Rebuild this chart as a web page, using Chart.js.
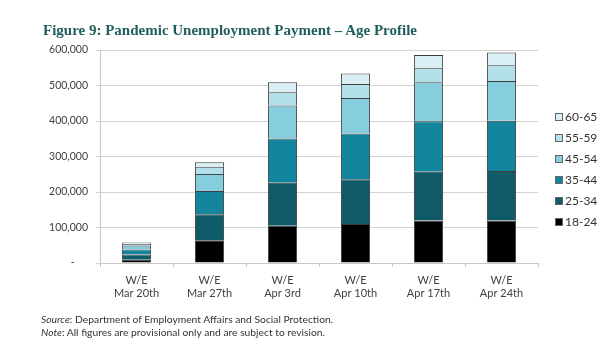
<!DOCTYPE html>
<html>
<head>
<meta charset="utf-8">
<script src="https://cdn.jsdelivr.net/npm/chart.js@4"></script>
<style>
  html,body{margin:0;padding:0;background:#fff;}
  #wrap{position:relative;width:614px;height:345px;overflow:hidden;}
  #title{position:absolute;left:43px;top:21px;font-family:"Liberation Serif","Times New Roman",serif;font-weight:bold;font-size:15px;line-height:18px;color:#1f5e5c;white-space:nowrap;}
  #foot{position:absolute;left:41px;top:313px;font-family:Lato,"Open Sans",sans-serif;font-size:10.3px;color:#333;line-height:12.5px;white-space:nowrap;}
  canvas{position:absolute;left:0;top:0;}
</style>
</head>
<body>
<div id="wrap">
  <canvas id="c" width="614" height="345"></canvas>
  <div id="title">Figure 9: Pandemic Unemployment Payment – Age Profile</div>
  <div id="foot"><i>Source</i>: Department of Employment Affairs and Social Protection.<br><i>Note</i>: All figures are provisional only and are subject to revision.</div>
</div>
<script>
const categories = [["W/E","Mar 20th"],["W/E","Mar 27th"],["W/E","Apr 3rd"],["W/E","Apr 10th"],["W/E","Apr 17th"],["W/E","Apr 24th"]];
const age18_24 = [9000, 64000, 105000, 110000, 120000, 120000];
const age25_34 = [15000, 73000, 121000, 126000, 137000, 139000];
const age35_44 = [14000, 66000, 125000, 129000, 142000, 142000];
const age45_54 = [11000, 48000, 93000, 100000, 110000, 112000];
const age55_59 = [5000, 20000, 37000, 39000, 41000, 44000];
const age60_65 = [4000, 13000, 28000, 30000, 36000, 36000];
const seriesNames = ["18-24","25-34","35-44","45-54","55-59","60-65"];
const yTicks = [0,100000,200000,300000,400000,500000,600000];

const colors = ["#000000","#0f5b69","#13869d","#86cddd","#b4e0eb","#d9eff5"];
const seriesData = [age18_24,age25_34,age35_44,age45_54,age55_59,age60_65];

const datasets = seriesNames.map((n,i)=>({
  label:n, data:seriesData[i], backgroundColor:colors[i],
  borderColor:"#3c3c3c", borderWidth:1, barPercentage:0.4, categoryPercentage:1
}));

const legendPlugin = {
  id:'customLegend',
  afterDraw(chart){
    const ctx = chart.ctx;
    const x = 555, y0 = 117, gap = 21;
    ctx.save();
    ctx.font = "12px Lato, 'Open Sans', sans-serif";
    ctx.textBaseline = "middle";
    const ds = chart.data.datasets;
    for(let k=0;k<ds.length;k++){
      const d = ds[ds.length-1-k];
      const y = y0 + k*gap;
      ctx.fillStyle = d.backgroundColor;
      ctx.fillRect(x, y-4, 8, 8);
      ctx.strokeStyle = "#666";
      ctx.lineWidth = 1;
      ctx.strokeRect(x+0.5, y-3.5, 7, 7);
      ctx.fillStyle = "#333";
      ctx.fillText(d.label, x+10, y+0.5);
    }
    ctx.restore();
  }
};

new Chart(document.getElementById('c'), {
  type:'bar',
  data:{labels:categories, datasets},
  options:{
    responsive:false, animation:false,
    layout:{padding:{left:0,right:76,top:50,bottom:0}},
    plugins:{legend:{display:false}, tooltip:{enabled:false}},
    scales:{
      x:{
        stacked:true,
        grid:{drawOnChartArea:false, color:"#c8c8c8", tickLength:4, offset:true},
        border:{color:"#c8c8c8"},
        ticks:{color:"#404040", font:{family:"Lato, 'Open Sans', sans-serif", size:11}, padding:7, maxRotation:0, autoSkip:false},
        afterFit(s){ s.height = 82; }
      },
      y:{
        stacked:true, min:0, max:600000,
        afterBuildTicks(s){ s.ticks = yTicks.map(v=>({value:v})); },
        grid:{color:"#d4d4d4", tickLength:4},
        border:{color:"#c8c8c8"},
        ticks:{color:"#404040", font:{family:"Lato, 'Open Sans', sans-serif", size:10.5}, padding:8,
          callback:(v)=> v===0 ? "-     " : v.toLocaleString('en-US')},
        afterFit(s){ s.width = 100; }
      }
    }
  },
  plugins:[legendPlugin]
});
</script>
</body>
</html>
